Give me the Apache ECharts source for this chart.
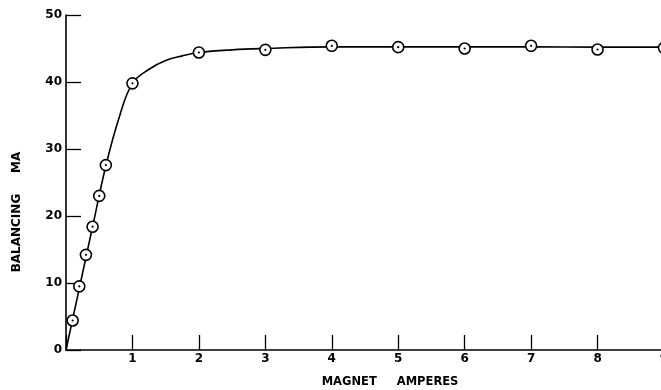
<!DOCTYPE html>
<html>
<head>
<meta charset="utf-8">
<script src="https://cdn.jsdelivr.net/npm/echarts@6/dist/echarts.min.js"></script>
<style>html,body{margin:0;padding:0;background:#fff;}#c{width:661px;height:390px;}</style>
</head>
<body>
<div id="c"></div>
<script>
// Measured points (magnet amperes, balancing mA)
var ampsX = [0.1, 0.2, 0.3, 0.4, 0.5, 0.6, 1, 2, 3, 4, 5, 6, 7, 8, 9];
var balMA = [4.4, 9.5, 14.2, 18.4, 23.0, 27.6, 39.8, 44.4, 44.8, 45.4, 45.2, 45.0, 45.4, 44.85, 45.1];
// Drawn curve
var curveX = [0, 0.2, 0.4, 0.6, 0.8, 1, 1.25, 1.5, 1.75, 2, 2.5, 3, 4, 5, 6, 7, 8, 9];
var curveY = [0, 9.2, 18.4, 27.5, 34.7, 39.8, 41.9, 43.2, 43.9, 44.4, 44.8, 45.0, 45.25, 45.25, 45.25, 45.25, 45.2, 45.2];
var xTicks = ['', '1', '2', '3', '4', '5', '6', '7', '8', '9'];
var yTicks = ['0', '10', '20', '30', '40', '50'];

var pts = ampsX.map(function (x, i) { return [x, balMA[i]]; });
var curve = curveX.map(function (x, i) { return [x, curveY[i]]; });
var font = 'DejaVu Sans';

var chart = echarts.init(document.getElementById('c'), null, {renderer: 'canvas'});
chart.setOption({
  animation: false,
  backgroundColor: '#fff',
  grid: {left: 66, right: -3, top: 15, bottom: 40, containLabel: false, outerBoundsMode: 'none'},
  xAxis: {
    type: 'value', min: 0, max: 9, interval: 1,
    name: 'MAGNET     AMPERES', nameLocation: 'middle', nameGap: 26,
    nameTextStyle: {color: '#000', fontFamily: font, fontSize: 11.5, fontWeight: 'bold', padding: [0, 0, 0, 50]},
    axisLine: {show: true, lineStyle: {color: '#000', width: 1.6}},
    axisTick: {show: true, inside: true, length: 15, lineStyle: {color: '#000', width: 1.3}},
    axisLabel: {color: '#000', fontFamily: font, fontSize: 12, fontWeight: 'bold', margin: 3,
      formatter: function (v) { return xTicks[Math.round(v)] || ''; }},
    splitLine: {show: false}
  },
  yAxis: {
    type: 'value', min: 0, max: 50, interval: 10,
    name: 'BALANCING     MA', nameLocation: 'middle', nameGap: 43,
    nameTextStyle: {color: '#000', fontFamily: font, fontSize: 12, fontWeight: 'bold', padding: [0, 59, 0, 0]},
    axisLine: {show: true, lineStyle: {color: '#000', width: 1.6}},
    axisTick: {show: true, inside: true, length: 15, lineStyle: {color: '#000', width: 1.3}},
    axisLabel: {color: '#000', fontFamily: font, fontSize: 12, fontWeight: 'bold', margin: 4,
      formatter: function (v) { return yTicks[Math.round(v / 10)]; }},
    splitLine: {show: false}
  },
  series: [
    {type: 'line', data: curve, smooth: 0.4, showSymbol: false, symbol: 'none',
     lineStyle: {color: '#000', width: 1.6}, z: 2, silent: true},
    {type: 'scatter', data: pts, symbol: 'circle', symbolSize: 11,
     itemStyle: {color: '#fff', borderColor: '#000', borderWidth: 1.6, opacity: 1}, z: 3, silent: true},
    {type: 'scatter', data: pts, symbol: 'circle', symbolSize: 2.2,
     itemStyle: {color: '#000', opacity: 1}, z: 4, silent: true}
  ]
});
</script>
</body>
</html>
